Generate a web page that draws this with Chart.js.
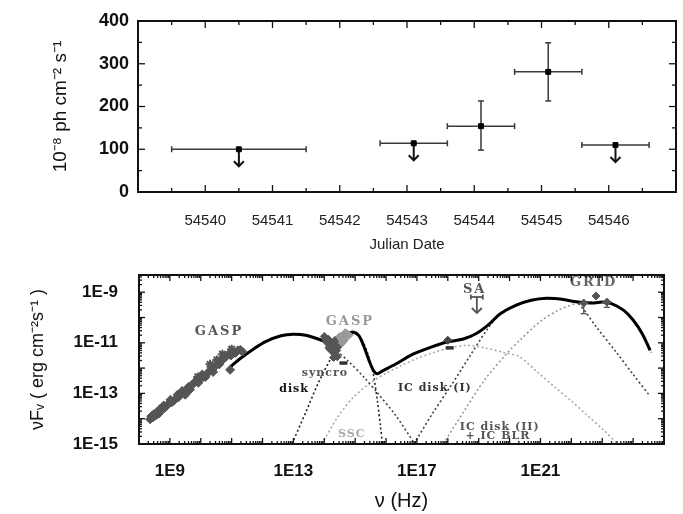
<!DOCTYPE html>
<html>
<head>
<meta charset="utf-8">
<script src="https://cdn.jsdelivr.net/npm/chart.js@4.4.0/dist/chart.umd.min.js"></script>
<style>
  html, body { margin: 0; padding: 0; background: #fff; }
  #lc { position: absolute; left: 0; top: 0; }
  #sed { position: absolute; left: 0; top: 255px; }
</style>
</head>
<body>
<canvas id="lc" width="683" height="255"></canvas>
<canvas id="sed" width="683" height="259"></canvas>
<script>
// ---- light curve (top) ----
const julianDays = [54540.5, 54543.1, 54544.1, 54545.1, 54546.1];
const dayLow = [54539.5, 54542.6, 54543.6, 54544.6, 54545.6];
const dayHigh = [54541.5, 54543.6, 54544.6, 54545.6, 54546.6];
const fluxValues = [100, 114, 154, 281, 110];
const fluxLow = [null, null, 98, 213, null];
const fluxHigh = [null, null, 213, 349, null];
const isUpperLimit = [true, true, false, false, true];
const dayTicks = [54540, 54541, 54542, 54543, 54544, 54545, 54546];
const fluxTicks = [0, 100, 200, 300, 400];

// ---- SED (bottom), values are log10(nu) and log10(nuFnu) ----
const totalNu = [10.95, 11.3, 11.7, 12.1, 12.6, 13.0, 13.4, 13.8, 14.1, 14.4, 14.6, 14.78, 14.95, 15.12, 15.3, 15.48, 15.62, 15.72, 15.9, 16.3, 16.87, 17.4, 17.97, 18.5, 18.94, 19.3, 19.7, 20.2, 20.7, 21.2, 21.7, 22.1, 22.5, 22.75, 23.0, 23.3, 23.7, 24.0, 24.3, 24.55];
const totalFlux = [-11.96, -11.6, -11.25, -10.95, -10.72, -10.66, -10.7, -10.85, -11.0, -11.2, -10.95, -10.65, -10.58, -10.72, -11.2, -11.8, -12.15, -12.22, -12.1, -11.85, -11.45, -11.2, -10.97, -10.85, -10.62, -10.3, -9.85, -9.52, -9.32, -9.24, -9.28, -9.37, -9.42, -9.43, -9.39, -9.45, -9.72, -10.1, -10.65, -11.3];
const syncroNu = [14.3, 14.8, 15.3, 15.7, 16.3, 16.93];
const syncroFlux = [-11.2, -11.75, -12.38, -12.95, -13.85, -15.0];
const diskNu = [12.95, 13.4, 13.8, 14.2, 14.5, 14.8, 15.0, 15.2, 15.4, 15.58, 15.72, 15.82, 15.88];
const diskFlux = [-15.0, -13.75, -12.6, -11.65, -11.05, -10.7, -10.65, -10.85, -11.4, -12.2, -13.3, -14.3, -15.0];
const sscNu = [13.92, 14.4, 14.9, 15.48, 16.0, 16.5, 17.0, 17.5, 18.0, 18.6, 19.2, 19.8, 20.33, 20.9, 21.5, 22.0, 22.5, 23.0, 23.5];
const sscFlux = [-15.0, -14.0, -13.2, -12.6, -12.2, -11.9, -11.62, -11.4, -11.22, -11.1, -11.2, -11.38, -11.56, -12.16, -12.79, -13.3, -13.85, -14.4, -15.0];
const icDisk1Nu = [16.9, 17.5, 18.1, 18.7, 19.26, 19.7, 20.2, 20.7, 21.2, 21.7, 22.2, 22.8, 23.47, 24.0, 24.54];
const icDisk1Flux = [-15.0, -13.8, -12.7, -11.55, -10.5, -9.85, -9.5, -9.32, -9.27, -9.3, -9.43, -10.36, -11.4, -12.25, -13.1];
const icBlrNu = [17.85, 18.5, 19.2, 20.0, 20.33, 21.0, 21.6, 22.2, 22.6, 23.0, 23.4, 23.8, 24.1, 24.4, 24.6];
const icBlrFlux = [-15.0, -13.75, -12.45, -11.3, -10.9, -10.15, -9.7, -9.43, -9.38, -9.4, -9.5, -9.85, -10.3, -10.85, -11.4];

const radioNu = [8.36, 8.4, 8.45, 8.48, 8.55, 8.6, 8.64, 8.68, 8.75, 8.8, 8.82, 8.9, 8.97, 9.02, 9.05, 9.12, 9.2, 9.25, 9.28, 9.35, 9.4, 9.45, 9.55, 9.6, 9.65, 9.7, 9.78, 9.85, 9.92, 10.0, 10.05, 10.08, 10.15, 10.22, 10.3, 10.38, 10.45, 10.6, 10.68, 10.75, 10.82, 10.9, 10.98, 11.05, 11.12, 11.2, 11.28, 11.35, 10.95, 10.4, 9.5];
const radioFlux = [-14.02, -13.9, -13.95, -13.82, -13.86, -13.72, -13.8, -13.62, -13.62, -13.48, -13.58, -13.48, -13.4, -13.25, -13.36, -13.3, -13.2, -13.05, -13.15, -13.05, -12.9, -12.98, -12.88, -12.75, -12.85, -12.68, -12.6, -12.5, -12.58, -12.4, -12.25, -12.35, -12.35, -12.2, -12.1, -12.0, -11.95, -11.85, -11.7, -11.6, -11.55, -11.45, -11.5, -11.35, -11.4, -11.3, -11.28, -11.35, -12.07, -12.15, -13.05];
const radioStarNu = [10.52, 10.3, 9.9, 11.0, 10.7];
const radioStarFlux = [-11.68, -11.85, -12.35, -11.25, -11.45];
const optDarkNu = [14.0, 14.05, 14.1, 14.12, 14.18, 14.2, 14.25, 14.28, 14.3, 14.33, 14.36, 14.4, 14.42, 14.45, 14.5, 14.35, 14.15, 14.22, 14.3];
const optDarkFlux = [-10.75, -10.9, -11.0, -10.85, -11.1, -10.95, -11.2, -11.05, -11.35, -11.2, -11.45, -11.3, -11.55, -11.15, -11.0, -10.9, -11.2, -11.3, -11.58];
const optLightNu = [14.5, 14.55, 14.6, 14.65, 14.7, 14.75, 14.58, 14.68, 14.8];
const optLightFlux = [-10.75, -10.85, -10.7, -10.9, -10.75, -10.65, -11.0, -10.6, -10.7];
const uvNu = [14.62];
const uvFlux = [-11.8];
const xrayNu = [18.0];
const xrayFlux = [-10.9];
const xrayBarNu = [18.06];
const xrayBarFlux = [-11.2];
const saNu = [18.94];
const saFlux = [-9.19];
const gridNu = [22.4, 22.8, 23.15];
const gridFlux = [-9.43, -9.15, -9.39];
const gridFluxLow = [-9.85, null, -9.6];
const gridFluxHigh = [-9.3, null, -9.3];
const xTickExps = [9, 13, 17, 21];
const yTickExps = [-15, -13, -11, -9];

const sedLabels = [
  { text: 'GASP', nu: 10.59, f: -10.57, color: '#555', size: 13, spacing: 2 },
  { text: 'GASP', nu: 14.83, f: -10.18, color: '#9a9a9a', size: 13, spacing: 2 },
  { text: 'syncro', nu: 14.02, f: -12.19, color: '#555', size: 11, spacing: 1 },
  { text: 'disk', nu: 13.02, f: -12.83, color: '#111', size: 11, spacing: 1 },
  { text: 'SSC', nu: 14.89, f: -14.6, color: '#aaa', size: 11, spacing: 1 },
  { text: 'IC disk (I)', nu: 17.58, f: -12.79, color: '#333', size: 11, spacing: 1 },
  { text: 'IC disk (II)', nu: 19.68, f: -14.33, color: '#555', size: 11, spacing: 1 },
  { text: '+ IC BLR', nu: 19.62, f: -14.68, color: '#555', size: 11, spacing: 1 },
  { text: 'SA', nu: 18.87, f: -8.91, color: '#555', size: 13, spacing: 2 },
  { text: 'GRID', nu: 22.72, f: -8.64, color: '#666', size: 13, spacing: 2 }
];

const SANS = '"Liberation Sans", Arial, sans-serif';
const SERIF = '"DejaVu Serif", "Liberation Serif", serif';

function seg(ctx, x0, y0, x1, y1) {
  ctx.beginPath(); ctx.moveTo(x0, y0); ctx.lineTo(x1, y1); ctx.stroke();
}
function downArrow(ctx, x, y, len) {
  seg(ctx, x, y, x, y + len);
  ctx.beginPath();
  ctx.moveTo(x - 5, y + len - 5); ctx.lineTo(x, y + len); ctx.lineTo(x + 5, y + len - 5);
  ctx.stroke();
}
function pts(nu, f) {
  return nu.map((v, i) => ({ x: Math.pow(10, v), y: Math.pow(10, f[i]) }));
}
// keep chart area where the layout padding puts it
function noPad(s) {
  s.paddingTop = 0; s.paddingBottom = 0; s.paddingLeft = 0; s.paddingRight = 0;
}
// frame plus gnuplot style inward ticks on all four sides
function drawFrame(chart, xMarks, yMarks) {
  const { ctx, chartArea: a, scales: { x, y } } = chart;
  ctx.save();
  ctx.strokeStyle = '#111';
  ctx.lineWidth = 1.3;
  xMarks.forEach(m => {
    const px = x.getPixelForValue(m.v);
    seg(ctx, px, a.bottom, px, a.bottom - m.len);
    seg(ctx, px, a.top, px, a.top + m.len);
  });
  yMarks.forEach(m => {
    const py = y.getPixelForValue(m.v);
    seg(ctx, a.left, py, a.left + m.len, py);
    seg(ctx, a.right, py, a.right - m.len, py);
  });
  ctx.lineWidth = 2;
  ctx.strokeRect(a.left, a.top, a.right - a.left, a.bottom - a.top);
  ctx.restore();
}

// ---- top chart ----
const lcPlugin = {
  id: 'lcOverlay',
  beforeDatasetsDraw(chart) {
    const { ctx, scales: { x, y } } = chart;
    ctx.save();
    ctx.strokeStyle = '#3a3a3a';
    ctx.lineWidth = 1.5;
    julianDays.forEach((d, i) => {
      const px = x.getPixelForValue(d);
      const py = y.getPixelForValue(fluxValues[i]);
      const x0 = x.getPixelForValue(dayLow[i]);
      const x1 = x.getPixelForValue(dayHigh[i]);
      seg(ctx, x0, py, x1, py);
      seg(ctx, x0, py - 3, x0, py + 3);
      seg(ctx, x1, py - 3, x1, py + 3);
      if (fluxLow[i] !== null) {
        const y0 = y.getPixelForValue(fluxLow[i]);
        const y1 = y.getPixelForValue(fluxHigh[i]);
        seg(ctx, px, y0, px, y1);
        seg(ctx, px - 3, y0, px + 3, y0);
        seg(ctx, px - 3, y1, px + 3, y1);
      }
    });
    ctx.strokeStyle = '#111';
    ctx.lineWidth = 2;
    julianDays.forEach((d, i) => {
      if (isUpperLimit[i]) downArrow(ctx, x.getPixelForValue(d), y.getPixelForValue(fluxValues[i]), 17);
    });
    ctx.restore();
  },
  afterDraw(chart) {
    const xm = [], ym = [];
    for (let v = 54539; v <= 54547; v += 0.5) xm.push({ v, len: Number.isInteger(v) ? 7 : 4 });
    for (let v = 0; v <= 400; v += 50) ym.push({ v, len: v % 100 === 0 ? 7 : 4 });
    drawFrame(chart, xm, ym);
  }
};

new Chart(document.getElementById('lc'), {
  type: 'scatter',
  data: {
    datasets: [{
      data: julianDays.map((d, i) => ({ x: d, y: fluxValues[i] })),
      pointStyle: 'rect',
      pointRadius: 3.5,
      backgroundColor: '#000',
      borderColor: '#000'
    }]
  },
  options: {
    responsive: false,
    devicePixelRatio: 1,
    animation: false,
    layout: { padding: { top: 21, right: 7, left: 0, bottom: 0 } },
    plugins: { legend: { display: false }, tooltip: { enabled: false } },
    scales: {
      x: {
        type: 'linear', min: 54539, max: 54547,
        grid: { display: false, drawTicks: false }, border: { display: false },
        afterBuildTicks: s => { s.ticks = dayTicks.map(v => ({ value: v })); },
        afterFit: s => { s.height = 63; noPad(s); },
        ticks: { autoSkip: false, maxRotation: 0, padding: 20, color: '#222', font: { family: SANS, size: 15 }, callback: v => String(v) },
        title: { display: true, text: 'Julian Date', color: '#222', font: { family: SANS, size: 15 }, padding: { top: 0, bottom: 1 } }
      },
      y: {
        type: 'linear', min: 0, max: 400,
        grid: { display: false, drawTicks: false }, border: { display: false },
        afterBuildTicks: s => { s.ticks = fluxTicks.map(v => ({ value: v })); },
        afterFit: s => { s.width = 138; noPad(s); },
        ticks: { padding: 9, color: '#111', font: { family: SANS, size: 18, weight: 'bold' } },
        title: { display: true, text: '10\u207B\u2078 ph cm\u207B\u00B2 s\u207B\u00B9', color: '#111', font: { family: SANS, size: 19 }, padding: { top: 49, bottom: 0 } }
      }
    }
  },
  plugins: [lcPlugin]
});

// ---- bottom chart ----
const sedPlugin = {
  id: 'sedOverlay',
  afterDatasetsDraw(chart) {
    const { ctx, scales: { x, y } } = chart;
    ctx.save();
    // SA upper limit
    ctx.strokeStyle = '#555';
    ctx.lineWidth = 1.8;
    saNu.forEach((n, i) => {
      const px = x.getPixelForValue(Math.pow(10, n));
      const py = y.getPixelForValue(Math.pow(10, saFlux[i]));
      seg(ctx, px - 6, py, px + 6, py);
      seg(ctx, px - 6, py - 2.5, px - 6, py + 2.5);
      seg(ctx, px + 6, py - 2.5, px + 6, py + 2.5);
      downArrow(ctx, px, py, 16);
    });
    // GRID error bars
    ctx.lineWidth = 1.3;
    gridNu.forEach((n, i) => {
      if (gridFluxLow[i] === null) return;
      const px = x.getPixelForValue(Math.pow(10, n));
      const py = y.getPixelForValue(Math.pow(10, gridFlux[i]));
      const y0 = y.getPixelForValue(Math.pow(10, gridFluxLow[i]));
      const y1 = y.getPixelForValue(Math.pow(10, gridFluxHigh[i]));
      seg(ctx, px, y0, px, y1);
      seg(ctx, px - 3, y0, px + 3, y0);
      seg(ctx, px - 5, py, px + 5, py);
    });
    // text labels
    sedLabels.forEach(l => {
      ctx.font = 'bold ' + l.size + 'px ' + SERIF;
      ctx.letterSpacing = l.spacing + 'px';
      ctx.fillStyle = l.color;
      ctx.textAlign = 'center';
      ctx.textBaseline = 'middle';
      ctx.fillText(l.text, x.getPixelForValue(Math.pow(10, l.nu)), y.getPixelForValue(Math.pow(10, l.f)));
    });
    ctx.restore();
  },
  afterDraw(chart) {
    const xm = [], ym = [];
    for (let e = 8; e <= 24; e++) {
      for (let m = 1; m <= 9; m++) xm.push({ v: m * Math.pow(10, e), len: m === 1 ? 6 : 3 });
    }
    for (let e = -15; e <= -9; e++) {
      for (let m = 1; m <= 9; m++) {
        const v = m * Math.pow(10, e);
        if (v <= chart.scales.y.max) ym.push({ v, len: m === 1 ? 6 : 3 });
      }
    }
    drawFrame(chart, xm, ym);
  }
};

const dotted = { showLine: true, pointRadius: 0, borderWidth: 1.6, borderDash: [2, 2.5], fill: false, tension: 0.3 };

new Chart(document.getElementById('sed'), {
  type: 'scatter',
  data: {
    datasets: [
      { data: pts(uvNu, uvFlux), pointStyle: 'line', pointRadius: 4, borderWidth: 3.5, borderColor: '#333' },
      { data: pts(xrayBarNu, xrayBarFlux), pointStyle: 'line', pointRadius: 4, borderWidth: 3.5, borderColor: '#333' },
      { data: pts(xrayNu, xrayFlux), pointStyle: 'rectRot', pointRadius: 4, backgroundColor: '#444', borderColor: '#444' },
      { data: pts(gridNu, gridFlux), pointStyle: 'rectRot', pointRadius: 4, backgroundColor: '#555', borderColor: '#555' },
      { data: pts(optLightNu, optLightFlux), pointStyle: 'rectRot', pointRadius: 4, backgroundColor: '#9a9a9a', borderColor: '#9a9a9a' },
      { data: pts(optDarkNu, optDarkFlux), pointStyle: 'rectRot', pointRadius: 4, backgroundColor: '#555', borderColor: '#555' },
      { data: pts(radioStarNu, radioStarFlux), pointStyle: 'star', pointRadius: 4.5, borderWidth: 2, backgroundColor: '#555', borderColor: '#555' },
      { data: pts(radioNu, radioFlux), pointStyle: 'rectRot', pointRadius: 4.5, backgroundColor: '#555', borderColor: '#555' },
      { data: pts(totalNu, totalFlux), showLine: true, pointRadius: 0, borderWidth: 3, borderColor: '#000', tension: 0.3 },
      Object.assign({ data: pts(syncroNu, syncroFlux), borderColor: '#444' }, dotted),
      Object.assign({ data: pts(diskNu, diskFlux), borderColor: '#222' }, dotted),
      Object.assign({ data: pts(sscNu, sscFlux), borderColor: '#aaa' }, dotted),
      Object.assign({ data: pts(icDisk1Nu, icDisk1Flux), borderColor: '#444' }, dotted),
      Object.assign({ data: pts(icBlrNu, icBlrFlux), borderColor: '#999' }, dotted)
    ]
  },
  options: {
    responsive: false,
    devicePixelRatio: 1,
    animation: false,
    layout: { padding: { top: 20, right: 19, left: 0, bottom: 0 } },
    plugins: { legend: { display: false }, tooltip: { enabled: false } },
    scales: {
      x: {
        type: 'logarithmic', min: 1e8, max: 1e25,
        grid: { display: false, drawTicks: false }, border: { display: false },
        afterBuildTicks: s => { s.ticks = xTickExps.map(e => ({ value: Math.pow(10, e) })); },
        afterFit: s => { s.height = 70; noPad(s); },
        ticks: { autoSkip: false, maxRotation: 0, padding: 17, color: '#111', font: { family: SANS, size: 17, weight: 'bold' }, callback: v => '1E' + Math.round(Math.log10(v)) },
        title: { display: true, text: '\u03BD (Hz)', color: '#111', font: { family: SANS, size: 20 }, padding: { top: 0, bottom: 1 } }
      },
      y: {
        type: 'logarithmic', min: 1e-15, max: Math.pow(10, -8.32),
        grid: { display: false, drawTicks: false }, border: { display: false },
        afterBuildTicks: s => { s.ticks = yTickExps.map(e => ({ value: Math.pow(10, e) })); },
        afterFit: s => { s.width = 139; noPad(s); },
        ticks: { padding: 21, color: '#111', font: { family: SANS, size: 17, weight: 'bold' }, callback: v => '1E' + Math.round(Math.log10(v)) },
        title: { display: true, text: '\u03BDF\u1D65 ( erg cm\u207B\u00B2s\u207B\u00B9 )', color: '#111', font: { family: SANS, size: 18 }, padding: { top: 27, bottom: 0 } }
      }
    }
  },
  plugins: [sedPlugin]
});
</script>
</body>
</html>
